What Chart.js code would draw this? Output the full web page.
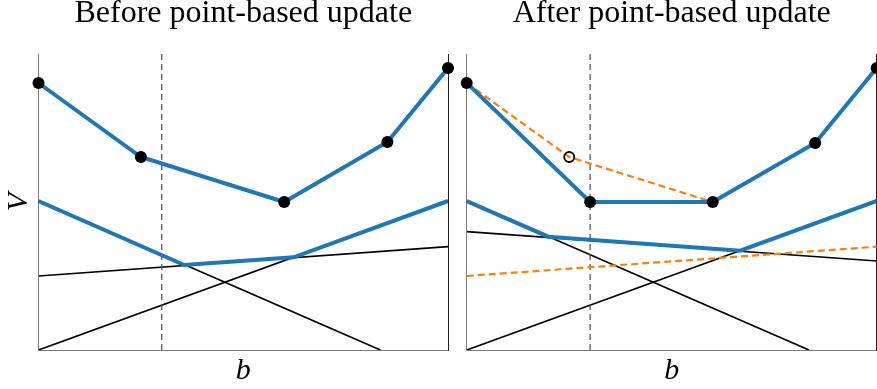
<!DOCTYPE html>
<html>
<head>
<meta charset="utf-8">
<script src="https://cdn.jsdelivr.net/npm/chart.js@4"></script>
<style>
  html, body { margin: 0; padding: 0; background: #fff; }
  body { width: 877px; height: 389px; position: relative; overflow: hidden; }
  canvas { position: absolute; top: 0; }
  #c1 { left: 0; }
  #c2 { left: 457px; }
</style>
</head>
<body>
<canvas id="c1" width="457" height="389"></canvas>
<canvas id="c2" width="420" height="389"></canvas>
<script>
// ---- data (b in [0,1], V in arbitrary units) ----
const titles = ["Before point-based update", "After point-based update"];
const xLabel = "b";
const yLabel = "V";
const vMax = 2.96;
const bUpdate = 0.301;               // belief where the backup is done

const bEnds = [0, 1];
// alpha vectors (lines) – before
const alphaA_before = [0.74, 1.033];
const alphaB = [0.0, 1.49];
const alphaC_b = [0, 0.835];
const alphaC_V = [1.49, 0.0];
// alpha vectors – after (A replaced)
const alphaA_after = [1.183, 0.89];

// lower envelopes (blue)
const envBefore_b = [0, 0.356, 0.623, 1];
const envBefore_V = [1.49, 0.85, 0.927, 1.49];
const envAfter_b = [0, 0.199, 0.667, 1];
const envAfter_V = [1.49, 1.133, 0.993, 1.49];

// upper value function with belief points
const upBefore_b = [0, 0.25, 0.60, 0.852, 1];
const upBefore_V = [2.67, 1.93, 1.48, 2.08, 2.82];
const upAfter_b = [0, 0.301, 0.60, 0.85, 1];
const upAfter_V = [2.67, 1.48, 1.48, 2.07, 2.82];
// old segment shown dashed after update
const oldSeg_b = [0, 0.25, 0.60];
const oldSeg_V = [2.67, 1.93, 1.48];
const oldPoint_b = [0.25];
const oldPoint_V = [1.93];

const BLUE = "#1f77b4", ORANGE = "#ff7f0e";
const SERIF = "'Liberation Serif', 'Times New Roman', serif";

const pts = (xs, ys) => xs.map((x, i) => ({x: x, y: ys[i]}));

function line(data, color, width, order, dash) {
  return { type: 'line', data: data, borderColor: color, borderWidth: width,
           borderDash: dash || [], pointRadius: 0, tension: 0, fill: false,
           order: order, showLine: true };
}
function dots(data, order) {
  return { type: 'scatter', data: data, pointRadius: 6, pointHoverRadius: 6,
           pointBackgroundColor: '#000', pointBorderColor: '#000', pointBorderWidth: 0,
           showLine: false, clip: false, order: order };
}

function makeChart(id, title, datasets, leftW, rightW, showY) {
  return new Chart(document.getElementById(id), {
    type: 'scatter',
    data: { datasets: datasets },
    options: {
      responsive: false, animation: false, devicePixelRatio: 1,
      events: [],
      layout: { padding: 0, autoPadding: false },
      plugins: {
        legend: { display: false }, tooltip: { enabled: false },
        title: { display: true, text: title, fullSize: false, color: '#000',
                 font: { family: SERIF, size: 32, weight: 'normal', lineHeight: 0.85 },
                 padding: { top: 0, bottom: 26.8 } }
      },
      scales: {
        x: { type: 'linear', min: 0, max: 1, position: 'bottom',
             grid: { display: false }, ticks: { display: false },
             border: { display: true, color: '#7a7a7a', width: 1 },
             title: { display: true, text: xLabel, color: '#000', padding: 0,
                      font: { family: SERIF, size: 30, style: 'italic', lineHeight: 1.2 } },
             afterFit: s => { s.height = 39; } },
        y: { type: 'linear', min: 0, max: vMax, position: 'left',
             grid: { display: false }, ticks: { display: false },
             border: { display: true, color: '#7a7a7a', width: 1 },
             title: { display: showY, text: yLabel, color: '#000', padding: {top: 1, bottom: 0},
                      font: { family: SERIF, size: 30, style: 'italic', lineHeight: 1.2 } },
             afterFit: s => { s.width = leftW; } },
        y2: { type: 'linear', min: 0, max: vMax, position: 'right',
              grid: { display: false }, ticks: { display: false },
              border: { display: true, color: '#222', width: 1 },
              afterFit: s => { s.width = rightW; } }
      }
    }
  });
}

const vDash = pts([bUpdate, bUpdate], [0, vMax]);

// ---- Left: before ----
makeChart('c1', titles[0], [
  dots(pts(upBefore_b, upBefore_V), 0),
  line(pts(upBefore_b, upBefore_V), BLUE, 4, 1),
  line(pts(envBefore_b, envBefore_V), BLUE, 4, 2),
  line(vDash, '#555', 1.3, 3, [6, 4]),
  line(pts(bEnds, alphaA_before), '#000', 1.7, 4),
  line(pts(bEnds, alphaB), '#000', 1.7, 4),
  line(pts(alphaC_b, alphaC_V), '#000', 1.7, 4)
], 38.5, 9, true);

// ---- Right: after ----
makeChart('c2', titles[1], [
  dots(pts(upAfter_b, upAfter_V), 0),
  { type: 'scatter', data: pts(oldPoint_b, oldPoint_V), pointRadius: 5,
    pointBackgroundColor: 'rgba(0,0,0,0)', pointBorderColor: '#000', pointBorderWidth: 1.8,
    showLine: false, clip: false, order: 0 },
  line(pts(upAfter_b, upAfter_V), BLUE, 4, 1),
  line(pts(oldSeg_b, oldSeg_V), ORANGE, 2.2, 2, [7, 4]),
  line(pts(envAfter_b, envAfter_V), BLUE, 4, 2),
  line(pts(bEnds, alphaA_before), ORANGE, 2.2, 3, [7, 4]),
  line(vDash, '#555', 1.3, 3, [6, 4]),
  line(pts(bEnds, alphaA_after), '#000', 1.7, 4),
  line(pts(bEnds, alphaB), '#000', 1.7, 4),
  line(pts(alphaC_b, alphaC_V), '#000', 1.7, 4)
], 9.7, 0.3, false);
</script>
</body>
</html>
